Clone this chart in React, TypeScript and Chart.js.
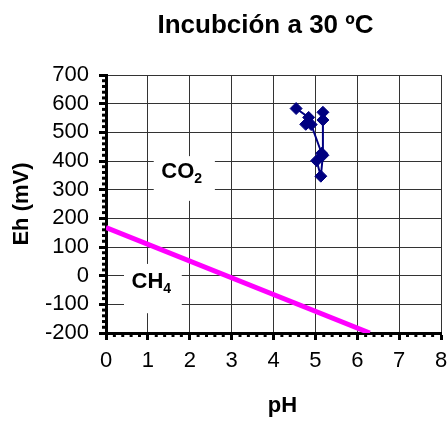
import React, { useEffect, useRef } from 'react';
import { Chart, registerables } from 'chart.js';

Chart.register(...registerables);

const TITLE = 'Incubción a 30 ºC';
const X_TITLE = 'pH';
const Y_TITLE = 'Eh (mV)';

// Measured samples (pH, Eh) in measurement order
const phValues = [4.54, 4.84, 4.77, 4.9, 5.15, 5.03, 5.13, 5.18, 5.18, 5.18];
const ehValues = [583, 552, 528, 527, 427, 401, 347, 420, 543, 570];

// CO2 / CH4 boundary line
const boundaryPH = [0, 6.3];
const boundaryEh = [168, -200];

const X_MIN = 0;
const X_MAX = 8;
const X_STEP = 1;
const X_MINOR = 0.2;
const Y_MIN = -200;
const Y_MAX = 700;
const Y_STEP = 100;
const Y_MINOR = 20;

const FONT = "Arial, 'Liberation Sans', sans-serif";

const minorTicks = {
  id: 'minorTicks',
  afterDraw(chart: any) {
    const { ctx, chartArea, scales } = chart;
    const x = scales.x;
    const y = scales.y;
    ctx.save();
    ctx.strokeStyle = '#000';
    ctx.lineWidth = 3;
    const nx = Math.round((X_MAX - X_MIN) / X_MINOR);
    const kx = Math.round(X_STEP / X_MINOR);
    for (let i = 0; i <= nx; i++) {
      if (i % kx === 0) continue;
      const px = x.getPixelForValue(X_MIN + i * X_MINOR);
      ctx.beginPath();
      ctx.moveTo(px, chartArea.bottom);
      ctx.lineTo(px, chartArea.bottom + 4);
      ctx.stroke();
    }
    const ny = Math.round((Y_MAX - Y_MIN) / Y_MINOR);
    const ky = Math.round(Y_STEP / Y_MINOR);
    for (let i = 0; i <= ny; i++) {
      if (i % ky === 0) continue;
      const py = y.getPixelForValue(Y_MIN + i * Y_MINOR);
      ctx.beginPath();
      ctx.moveTo(chartArea.left, py);
      ctx.lineTo(chartArea.left - 4, py);
      ctx.stroke();
    }
    ctx.restore();
  },
};

function drawChem(ctx: any, main: string, sub: string, x: number, y: number) {
  ctx.font = `bold 22px ${FONT}`;
  ctx.fillStyle = '#000';
  ctx.textBaseline = 'middle';
  ctx.textAlign = 'left';
  ctx.fillText(main, x, y);
  const w = ctx.measureText(main).width;
  ctx.font = `bold 14px ${FONT}`;
  ctx.fillText(sub, x + w, y + 7);
}

const regionLabels = {
  id: 'regionLabels',
  beforeDatasetsDraw(chart: any) {
    const { ctx, scales } = chart;
    const x = scales.x;
    const y = scales.y;
    ctx.save();
    ctx.fillStyle = '#fff';
    // CO2 box
    const c1x = x.getPixelForValue(1.14);
    const c2x = x.getPixelForValue(2.6);
    const c1y = y.getPixelForValue(417);
    const c2y = y.getPixelForValue(261);
    ctx.fillRect(c1x, c1y, c2x - c1x, c2y - c1y);
    // CH4 box
    const h1x = x.getPixelForValue(0.43);
    const h2x = x.getPixelForValue(1.81);
    const h1y = y.getPixelForValue(41);
    const h2y = y.getPixelForValue(-131);
    ctx.fillRect(h1x, h1y, h2x - h1x, h2y - h1y);
    drawChem(ctx, 'CO', '2', x.getPixelForValue(1.32), y.getPixelForValue(361));
    drawChem(ctx, 'CH', '4', x.getPixelForValue(0.61), y.getPixelForValue(-21));
    ctx.restore();
  },
};

const titlePlugin = {
  id: 'customTitles',
  afterDraw(chart: any) {
    const { ctx, chartArea } = chart;
    const cx = (chartArea.left + chartArea.right) / 2;
    const cy = (chartArea.top + chartArea.bottom) / 2;
    ctx.save();
    ctx.fillStyle = '#000';
    ctx.textAlign = 'center';
    ctx.textBaseline = 'alphabetic';
    ctx.font = `bold 26px ${FONT}`;
    ctx.fillText(TITLE, cx - 8, 33);
    ctx.font = `bold 22px ${FONT}`;
    ctx.fillText(X_TITLE, cx + 9, 412);
    ctx.translate(22, cy);
    ctx.rotate(-Math.PI / 2);
    ctx.textBaseline = 'middle';
    ctx.fillText(Y_TITLE, 0, 0);
    ctx.restore();
  },
};

export default function App() {
  const ref = useRef<HTMLCanvasElement | null>(null);

  useEffect(() => {
    document.body.style.margin = '0';
    const canvas = ref.current;
    if (!canvas) return;
    const samples = phValues.map((v, i) => ({ x: v, y: ehValues[i] }));
    const boundary = boundaryPH.map((v, i) => ({ x: v, y: boundaryEh[i] }));
    const chart = new Chart(canvas, {
      type: 'scatter',
      data: {
        datasets: [
          {
            label: 'CO2/CH4',
            data: boundary,
            showLine: true,
            borderColor: '#FF00FF',
            backgroundColor: '#FF00FF',
            borderWidth: 5,
            pointRadius: 0,
          },
          {
            label: 'Incubación 30 ºC',
            data: samples,
            showLine: true,
            borderColor: '#000080',
            backgroundColor: '#000080',
            borderWidth: 2,
            pointStyle: 'rectRot',
            pointRadius: 6,
            pointBorderWidth: 1,
          },
        ],
      },
      options: {
        responsive: false,
        animation: false,
        devicePixelRatio: 1,
        layout: { padding: { top: 75, right: 6, left: 0, bottom: 0 } },
        plugins: { legend: { display: false }, tooltip: { enabled: false }, title: { display: false } },
        scales: {
          x: {
            type: 'linear',
            min: X_MIN,
            max: X_MAX,
            ticks: {
              stepSize: X_STEP,
              autoSkip: false,
              maxRotation: 0,
              color: '#000',
              font: { size: 22, family: FONT },
              padding: 8,
            },
            grid: { color: '#333', lineWidth: 1, tickColor: '#000', tickWidth: 3, tickLength: 7 },
            border: { color: '#000', width: 3 },
            afterFit(s: any) {
              s.height = 90;
              s.paddingRight = 0;
              s.paddingLeft = 0;
            },
          },
          y: {
            type: 'linear',
            min: Y_MIN,
            max: Y_MAX,
            ticks: {
              stepSize: Y_STEP,
              autoSkip: false,
              color: '#000',
              font: { size: 22, family: FONT },
              padding: 10,
            },
            grid: { color: '#333', lineWidth: 1, tickColor: '#000', tickWidth: 3, tickLength: 7 },
            border: { color: '#000', width: 3 },
            afterFit(s: any) {
              s.width = 106;
            },
          },
        },
      },
      plugins: [regionLabels, minorTicks, titlePlugin],
    } as any);
    return () => chart.destroy();
  }, []);

  return (
    <div style={{ position: 'absolute', left: 0, top: 0, width: 448, height: 423, background: '#fff' }}>
      <canvas ref={ref} width={448} height={423} style={{ width: 448, height: 423 }} />
    </div>
  );
}
